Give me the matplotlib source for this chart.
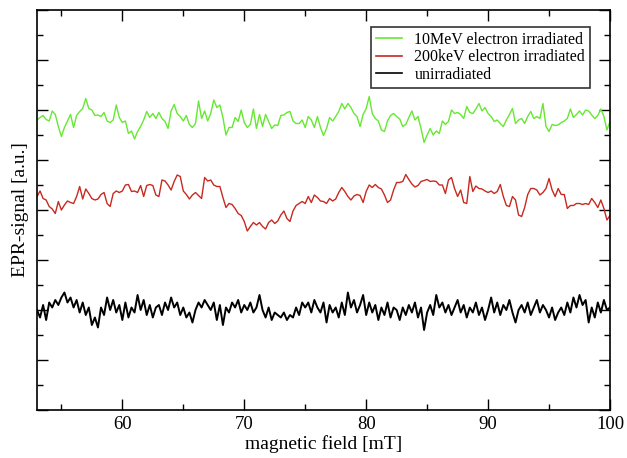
import numpy as np
import matplotlib
matplotlib.use('Agg')
import matplotlib.pyplot as plt
from matplotlib.ticker import MultipleLocator, NullFormatter

# spectra were sampled every 0.25 mT starting at 53 mT
field_start = 53.0
field_step = 0.25

# EPR signal (arbitrary units, offset per sample)
green_10mev = [
    5.80, 5.85, 5.89, 5.81, 5.78, 5.98, 5.91, 5.67, 5.47, 5.65, 5.78, 5.91, 5.65, 5.89, 5.97, 6.03,
    6.23, 6.03, 6.00, 5.89, 5.90, 5.87, 5.95, 5.78, 5.75, 5.80, 6.10, 5.85, 5.75, 5.78, 5.53, 5.58,
    5.42, 5.57, 5.67, 5.80, 5.97, 5.85, 5.93, 5.83, 5.95, 5.83, 5.77, 5.63, 5.98, 6.11, 5.93, 5.87,
    5.78,
    5.89, 5.71, 5.65, 5.73, 6.18, 5.83, 5.98, 5.78, 5.93, 6.20, 6.05, 6.10, 5.85, 5.50, 5.65, 5.65,
    5.85, 5.77, 6.00, 5.75, 5.65, 5.71, 6.02, 5.63, 5.91, 5.67, 5.91, 5.77, 5.63, 5.70, 5.69, 5.89,
    5.90, 5.95, 5.97, 5.78, 5.73, 5.73, 5.80, 5.65, 5.87, 5.80, 5.65, 5.87, 5.65, 5.49, 5.63, 5.85,
    5.78,
    5.87, 5.97, 6.13, 6.02, 6.13, 6.05, 5.93, 5.87, 5.67, 5.91, 6.03, 6.27, 5.93, 5.83, 5.78, 5.60,
    5.57, 5.78, 5.89, 5.93, 5.87, 5.82, 5.67, 5.71, 5.85, 5.98, 5.80, 5.87, 5.63, 5.35, 5.50, 5.63,
    5.50, 5.58, 5.53, 5.78, 5.71, 5.77, 6.00, 5.93, 5.95, 5.91, 5.83, 6.07, 5.95, 5.93, 6.02, 6.13,
    5.98,
    6.05, 5.93, 5.87, 5.77, 5.80, 5.73, 5.67, 5.80, 5.91, 6.03, 5.73, 5.80, 5.83, 5.73, 5.87, 5.97,
    5.83, 5.87, 5.83, 6.13, 5.67, 5.57, 5.71, 5.69, 5.70, 5.75, 5.78, 5.83, 6.02, 5.85, 5.91, 5.98,
    5.90, 6.00, 5.98, 5.90, 5.83, 5.89, 6.02, 5.87, 5.60, 5.77,
]

red_200kev = [
    4.27, 4.38, 4.23, 4.20, 4.07, 4.02, 3.93, 4.17, 4.00, 4.10, 4.18, 4.15, 4.13, 4.27, 4.47, 4.22,
    4.42, 4.33, 4.23, 4.20, 4.22, 4.31, 4.35, 4.13, 4.07, 4.33, 4.38, 4.35, 4.38, 4.50, 4.51, 4.37,
    4.38, 4.35, 4.49, 4.27, 4.49, 4.51, 4.49, 4.30, 4.27, 4.60, 4.58, 4.50, 4.40, 4.57, 4.70, 4.67,
    4.38,
    4.31, 4.22, 4.30, 4.35, 4.29, 4.23, 4.65, 4.58, 4.60, 4.50, 4.47, 4.47, 4.25, 4.05, 4.13, 4.11,
    4.03, 3.93, 3.89, 3.77, 3.58, 3.67, 3.75, 3.70, 3.75, 3.67, 3.62, 3.75, 3.80, 3.73, 3.78, 3.90,
    3.98, 3.83, 3.77, 3.98, 4.09, 4.13, 4.17, 4.13, 4.27, 4.15, 4.30, 4.25, 4.18, 4.17, 4.13, 4.23,
    4.18,
    4.22, 4.35, 4.45, 4.37, 4.27, 4.20, 4.28, 4.31, 4.29, 4.15, 4.37, 4.50, 4.45, 4.51, 4.45, 4.42,
    4.30, 4.15, 4.20, 4.40, 4.55, 4.55, 4.57, 4.71, 4.61, 4.52, 4.46, 4.49, 4.57, 4.59, 4.61, 4.57,
    4.58, 4.57, 4.50, 4.50, 4.33, 4.60, 4.65, 4.43, 4.27, 4.40, 4.15, 4.13, 4.67, 4.37, 4.48, 4.43,
    4.42,
    4.38, 4.35, 4.38, 4.33, 4.37, 4.51, 4.27, 4.09, 4.07, 4.27, 4.20, 3.90, 3.87, 4.05, 4.31, 4.43,
    4.43, 4.40, 4.30, 4.35, 4.43, 4.63, 4.40, 4.27, 4.43, 4.31, 4.31, 4.03, 4.09, 4.09, 4.13, 4.13,
    4.11, 4.13, 4.11, 4.23, 4.15, 4.05, 4.20, 4.03, 3.80, 3.89,
]

black_unirr = [
    2.00, 1.85, 2.10, 1.80, 2.15, 2.05, 2.20, 2.10, 2.25,
    2.35, 2.15, 2.25, 2.05, 2.20, 1.95, 2.15, 1.90,
    2.05, 1.70, 1.85, 1.65, 2.05, 1.90, 2.25, 2.00,
    2.20, 1.95, 2.10, 1.80, 2.15, 1.85, 2.05, 1.95,
    2.30, 2.00, 2.20, 1.90, 2.10, 1.85, 2.05, 2.10,
    1.90, 2.15, 2.00, 2.25, 2.05, 2.15, 1.90, 2.05,
    1.85, 1.95, 1.75, 2.00, 2.15, 2.05, 2.20, 2.10,
    2.00, 2.15, 1.80, 2.10, 1.70, 2.05, 1.95, 2.15,
    2.05, 2.20, 1.95, 2.10, 2.00, 2.15, 1.95, 2.05,
    2.30, 2.00, 1.85, 2.05, 1.80, 1.95, 1.90, 1.85,
    1.95, 1.80, 1.90, 1.85, 2.05, 1.90, 2.15, 2.05,
    2.15, 1.95, 2.20, 2.05, 1.95, 2.15, 1.75, 2.10,
    1.95, 2.05, 1.85, 2.15, 1.90, 2.35, 2.05, 2.20,
    1.95, 2.10, 2.30, 1.90, 2.15, 1.95, 2.10, 1.80,
    2.05, 1.90, 2.15, 1.85, 2.05, 2.00, 1.80, 2.05,
    1.90, 2.10, 1.95, 2.15, 1.85, 2.05, 1.60, 1.95,
    2.10, 1.90, 2.30, 2.05, 2.15, 1.95, 2.10, 1.90,
    2.05, 2.20, 1.95, 2.10, 1.85, 2.05, 1.95, 2.15,
    1.90, 2.05, 1.80, 2.00, 2.25, 1.95, 2.15, 1.90,
    2.10, 2.00, 2.20, 1.95, 1.75, 2.00, 2.10, 1.95,
    2.15, 1.90, 2.05, 2.20, 1.95, 2.10, 2.00, 1.85,
    2.05, 1.80, 1.95, 2.05, 1.90, 2.15, 1.95, 2.25,
    2.05, 2.30, 2.10, 2.20, 1.75, 2.05, 1.85, 2.15,
    1.95, 2.20, 2.00, 2.05,
]

labels = ['10MeV electron irradiated', '200keV electron irradiated', 'unirradiated']
colors = ['#66e833', '#c62a20', 'black']
widths = [1.0, 1.0, 1.4]

plt.rcParams['font.family'] = ['Liberation Serif', 'DejaVu Serif']

fig = plt.figure(figsize=(6.27, 4.58), dpi=100)
ax = fig.add_axes([37 / 627, 48 / 458, 573 / 627, 400 / 458])

for series, label, color, lw in zip([green_10mev, red_200kev, black_unirr], labels, colors, widths):
    field = field_start + field_step * np.arange(len(series))
    ax.plot(field, series, color=color, lw=lw, label=label)

ax.set_xlim(53, 100)
ax.set_ylim(0, 8)
ax.xaxis.set_major_locator(MultipleLocator(10))
ax.xaxis.set_minor_locator(MultipleLocator(5))
ax.yaxis.set_major_locator(MultipleLocator(1))
ax.yaxis.set_minor_locator(MultipleLocator(0.5))
ax.yaxis.set_major_formatter(NullFormatter())
ax.tick_params(which='both', direction='in', top=True, right=True, width=1.0)
ax.tick_params(which='major', length=8, labelsize=13.5, pad=4)
ax.tick_params(which='minor', length=4.5)
for sp in ax.spines.values():
    sp.set_linewidth(1.2)

ax.set_xlabel('magnetic field [mT]', fontsize=14, labelpad=2)
ax.set_ylabel('EPR-signal [a.u.]', fontsize=14, labelpad=2)

leg = ax.legend(loc='upper right', bbox_to_anchor=(0.965, 0.9575), fontsize=11.5,
                frameon=True, fancybox=False, borderaxespad=0, handlelength=1.6,
                handletextpad=0.8, labelspacing=0.1, borderpad=0.3)
leg.get_frame().set_edgecolor('black')
leg.get_frame().set_linewidth(1.2)
for line in leg.get_lines():
    line.set_linewidth(1.2)

fig.savefig('out.png', dpi=100)
